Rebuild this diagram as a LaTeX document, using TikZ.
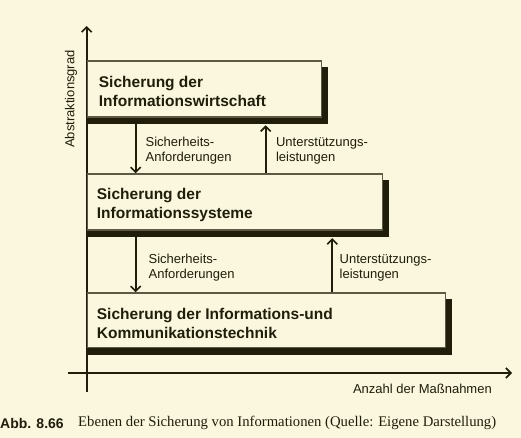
\documentclass[tikz,border=0pt]{standalone}
\usepackage{fontspec}
\setmainfont{Liberation Sans}
\newfontfamily\captionserif{Liberation Serif}
\usetikzlibrary{arrows.meta,positioning}
\definecolor{papier}{HTML}{FAF7DE}
\definecolor{tinte}{HTML}{201D0A}
\definecolor{rand}{HTML}{5C5A44}
\tikzset{
  ebene/.style={draw=rand, line width=1.3pt, fill=papier, anchor=north west, inner sep=0pt},
  titel/.style={anchor=west, align=left, inner sep=0pt, text=tinte,
    font=\fontsize{15.5}{19}\selectfont\bfseries},
  hinweis/.style={align=left, inner sep=0pt, text=tinte, font=\fontsize{13}{15}\selectfont},
  pfeil/.style={draw=tinte, line width=1.8pt, -{Straight Barb[length=5pt,width=10pt,line width=1.6pt]}},
  achse/.style={draw=tinte, line width=1.8pt},
}
\newcommand{\schatten}[1]{%
  \fill[tinte] (#1.south west) rectangle ([shift={(6pt,-6.5pt)}]#1.south east);
  \fill[tinte] ([yshift=-7pt]#1.north east) rectangle ([shift={(6pt,-6.5pt)}]#1.south east);}

\begin{document}
\begin{tikzpicture}[x=1pt,y=1pt]
\fill[papier] (0,0) rectangle (521,438);
\useasboundingbox (0,0) rectangle (521,438);

% Achsen
\coordinate (yu) at (86.7,46);
\coordinate (yo) at (86.7,412);
\coordinate (xl) at (68,65);
\coordinate (xr) at (512,65);
\draw[achse,-{Straight Barb[length=5pt,width=10pt,line width=1.6pt]}] (yu) -- (yo);
\draw[achse,-{Straight Barb[length=5pt,width=10pt,line width=1.6pt]}] (xl) -- (xr);
\node[hinweis, rotate=90] (ygrad) at (71,339) {Abstraktionsgrad};
\node[hinweis, anchor=east] (xanz) at (492,49) {Anzahl der Maßnahmen};

% Ebenen
\node[ebene, minimum width=234pt, minimum height=56pt] (b1) at (86.7,377.5) {};
\node[ebene, minimum width=295pt, minimum height=56pt] (b2) at (86.7,264.7) {};
\node[ebene, minimum width=358.3pt, minimum height=54.5pt] (b3) at (86.7,145.7) {};
\schatten{b1}
\schatten{b2}
\schatten{b3}
\node[titel] (t1) at ([shift={(12pt,-2pt)}]b1.west) {Sicherung der\\Informationswirtschaft};
\node[titel] (t2) at ([shift={(10pt,-3pt)}]b2.west) {Sicherung der\\Informationssysteme};
\node[titel] (t3) at ([shift={(10pt,-3.5pt)}]b3.west) {Sicherung der Informations-und\\Kommunikationstechnik};

% Pfeile
\draw[pfeil] ([shift={(49pt,-6.5pt)}]b1.south west) -- ([xshift=49pt]b2.north west)
  node[hinweis, midway, right=9pt, yshift=-2pt] (h1) {Sicherheits-\\Anforderungen};
\draw[pfeil] ([xshift=179pt]b2.north west) -- ([shift={(179pt,-7.5pt)}]b1.south west)
  node[hinweis, midway, right=9.5pt, yshift=-2pt] (u1) {Unterstützungs-\\leistungen};
\draw[pfeil] ([shift={(49pt,-6.5pt)}]b2.south west) -- ([xshift=49pt]b3.north west)
  node[hinweis, midway, right=12pt, yshift=-2.5pt] (h2) {Sicherheits-\\Anforderungen};
\draw[pfeil] ([xshift=245.6pt]b3.north west) -- ([shift={(245.6pt,-7.5pt)}]b2.south west)
  node[hinweis, midway, right=6.5pt, yshift=-2.5pt] (u2) {Unterstützungs-\\leistungen};

% Bildunterschrift
\node[anchor=west, inner sep=0pt, text=tinte, font=\fontsize{14}{16}\selectfont\bfseries] (abb) at (0,15) {Abb. 8.66};
\node[anchor=west, inner sep=0pt, text=tinte, font=\captionserif\fontsize{14.7}{17}\selectfont] (cap) at (78,15)
  {Ebenen der Sicherung von Informationen (Quelle: Eigene Darstellung)};
\end{tikzpicture}
\end{document}
